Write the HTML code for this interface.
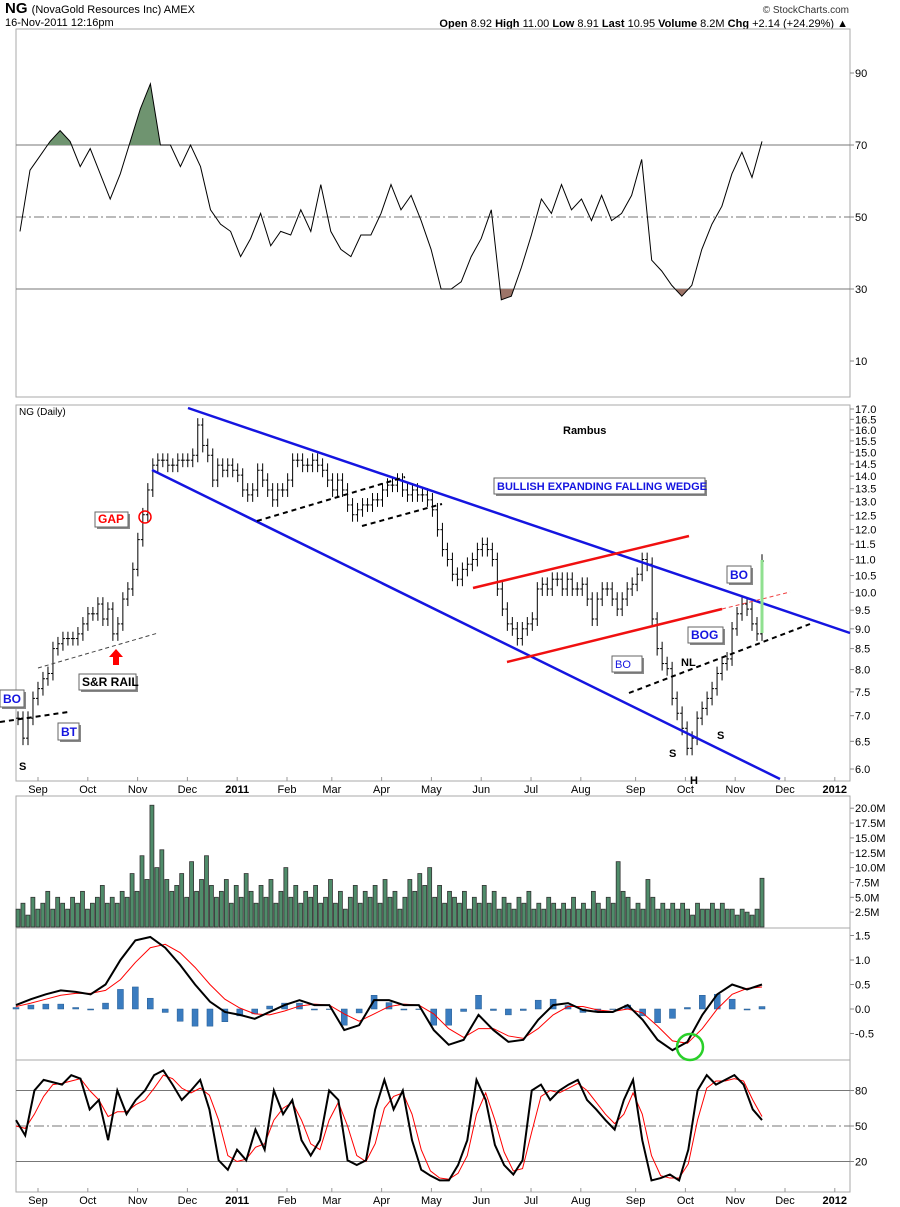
<!DOCTYPE html>
<html><head><meta charset="utf-8">
<style>
html,body{margin:0;padding:0;background:#fff;}
svg{display:block;font-family:"Liberation Sans",sans-serif;}
</style></head>
<body>
<svg id="c" width="900" height="1207" viewBox="0 0 900 1207" xmlns="http://www.w3.org/2000/svg">
<rect x="0" y="0" width="900" height="1207" fill="#fff"/>
<text x="5" y="13" font-size="15" font-weight="bold">NG <tspan font-size="11" font-weight="normal">(NovaGold Resources Inc) AMEX</tspan></text>
<text x="5" y="26" font-size="11">16-Nov-2011 12:16pm</text>
<text x="849" y="13" font-size="10" text-anchor="end" fill="#333">© StockCharts.com</text>
<text x="848" y="27" font-size="11" text-anchor="end"><tspan font-weight="bold">Open</tspan> 8.92 <tspan font-weight="bold">High</tspan> 11.00 <tspan font-weight="bold">Low</tspan> 8.91 <tspan font-weight="bold">Last</tspan> 10.95 <tspan font-weight="bold">Volume</tspan> 8.2M <tspan font-weight="bold">Chg</tspan> +2.14 (+24.29%) ▲</text>
<g id="g"></g>
</svg>
<script>
// ---- data ----
const priceCloses=[6.95,6.56,6.95,7.36,7.57,7.79,7.91,8.5,8.62,8.75,8.75,8.75,8.87,9.13,9.4,9.4,9.67,9.26,9.53,8.87,9.13,9.81,10.1,10.69,11.65,12.52,13.45,14.45,14.66,14.66,14.45,14.45,14.66,14.66,14.66,14.87,16.23,15.3,14.87,13.84,14.45,14.24,14.45,14.24,14.04,13.45,13.26,13.45,14.24,13.84,13.45,13.07,13.45,13.45,13.84,14.66,14.66,14.45,14.45,14.66,14.45,14.24,13.84,13.45,13.84,13.45,12.88,12.52,12.7,12.88,12.88,13.07,13.07,13.45,13.64,13.64,13.84,13.45,13.26,13.45,13.26,13.26,13.07,12.7,11.99,11.32,11.0,10.54,10.39,10.69,10.85,11.0,11.32,11.49,11.32,11.0,10.1,9.53,9.13,9.0,8.75,9.0,9.13,9.26,10.1,10.24,10.1,10.39,10.39,10.1,10.39,10.1,10.1,10.24,9.81,9.26,9.81,10.1,10.1,9.81,9.53,9.81,10.1,10.24,10.54,11.0,10.85,9.26,8.5,8.14,8.02,7.36,7.05,6.75,6.37,6.56,6.95,7.15,7.36,7.57,7.91,8.14,8.25,9.0,9.4,9.67,9.53,9.13,8.87,10.95];
const priceTicks=[17.0,16.5,16.0,15.5,15.0,14.5,14.0,13.5,13.0,12.5,12.0,11.5,11.0,10.5,10.0,9.5,9.0,8.5,8.0,7.5,7.0,6.5,6.0];
const rsiValues=[46,63,67,71,74,71,64,69,62,55,62,71,80,87,70,70,64,70,64,52,48,46,39,44,51,42,46,45,52,46,59,46,41,39,45,45,51,59,52,56,49,41,30,30,32,39,44,52,27,28,36,45,55,51,59,52,55,49,56,49,51,56,66,38,35,31,28,31,41,48,53,62,68,61,71];
const rsiTicks=[90,70,50,30,10];
const volumeM=[3,4,2,5,3,4,6,3,5,4,3,5,4,6,3,4,5,7,4,5,4,6,5,9,6,12,8,20.5,10,13,8,6,7,9,5,11,6,8,12,7,5,6,8,4,7,5,9,6,4,7,5,8,4,6,10,5,7,4,6,5,7,4,5,8,4,6,3,5,7,4,6,5,7,4,8,5,6,3,5,8,6,9,7,10,5,7,4,6,5,4,6,3,5,4,7,4,6,3,5,4,3,5,4,6,3,4,3,5,4,3,4,3,5,3,4,3,6,4,3,5,4,11,6,5,3,4,3,8,5,3,4,3,4,3,4,3,2,4,3,3,4,3,4,3,3,2,3,2.5,2,3,8.2];
const volumeTicks=[20.0,17.5,15.0,12.5,10.0,7.5,5.0,2.5];
const macdLine=[0.08,0.2,0.3,0.38,0.35,0.3,0.5,1.0,1.4,1.47,1.25,0.9,0.5,0.15,-0.06,-0.12,-0.2,-0.06,0.08,0.18,0.08,0.08,-0.43,-0.33,0.18,0.18,0.08,0.08,-0.43,-0.73,-0.63,-0.12,-0.43,-0.67,-0.63,-0.22,0.08,0.12,-0.02,-0.06,-0.06,0.08,-0.22,-0.63,-0.84,-0.67,-0.12,0.3,0.5,0.4,0.5];
const macdSignal=[0.05,0.12,0.2,0.28,0.32,0.32,0.38,0.6,0.95,1.25,1.32,1.15,0.85,0.5,0.2,0.02,-0.1,-0.12,-0.04,0.06,0.1,0.08,-0.1,-0.25,-0.1,0.05,0.1,0.08,-0.1,-0.4,-0.58,-0.4,-0.4,-0.55,-0.6,-0.4,-0.12,0.05,0.05,-0.02,-0.05,0.0,-0.08,-0.35,-0.65,-0.7,-0.4,0.0,0.3,0.42,0.45];
const macdTicks=[1.5,1.0,0.5,0.0,-0.5];
const stochK=[55,42,80,89,87,85,93,90,64,72,38,80,60,72,80,93,97,85,72,80,89,64,21,13,30,21,47,30,80,60,72,38,25,38,80,72,21,17,21,64,89,64,80,38,13,8,4,4,17,38,89,72,34,17,9,21,80,85,72,80,85,89,72,64,55,47,72,89,38,4,6,9,4,30,80,93,85,89,93,85,64,55];
const stochD=[50,48,60,75,85,86,88,90,80,72,58,62,62,68,72,82,93,90,82,78,82,76,55,25,20,22,32,35,55,65,70,55,35,30,55,70,50,25,20,35,65,75,78,60,30,12,6,5,10,25,60,78,55,28,12,14,45,75,80,78,82,86,80,70,60,52,60,78,60,25,8,6,6,18,55,82,88,88,90,88,72,58];
const stochTicks=[80,50,20];
const monthLabels=["Sep","Oct","Nov","Dec","2011","Feb","Mar","Apr","May","Jun","Jul","Aug","Sep","Oct","Nov","Dec","2012"];
const monthIndex=[0.4,1.4,2.4,3.4,4.4,5.4,6.3,7.3,8.3,9.3,10.3,11.3,12.4,13.4,14.4,15.4,16.4];

// ---- layout ----
const NS="http://www.w3.org/2000/svg";
const G=document.getElementById('g');
const L=16,R=850,X0=18,X1=762;
function mk(t,a,p){const e=document.createElementNS(NS,t);for(const k in a)e.setAttribute(k,a[k]);(p||G).appendChild(e);return e;}
function xs(n,i,a,b){a=a===undefined?X0:a;b=b===undefined?X1:b;return a+(b-a)*i/(n-1);}
const monthX=m=>38+m*49.8-0.4*49.8+0; // axis function for month position
const P={rsi:[29,397],price:[405,781],vol:[796,928],macd:[928,1060],sto:[1060,1192]};
const yRsi=v=>217-(v-50)*3.6;
const yPrice=p=>409+(Math.log(17)-Math.log(p))/Math.log(17/6)*360;
const yVol=v=>927-v*5.94;
const yMacd=v=>1009-v*49;
const ySto=v=>1126-(v-50)*1.183;

// panels
for(const k in P){const r=mk('rect',{x:L,y:P[k][0],width:R-L,height:P[k][1]-P[k][0],fill:'none',stroke:'#aaa','stroke-width':1});

}

function tickLabels(ticks,yf,fmt,name){ticks.forEach(t=>{const y=yf(t);
 const ln=mk('line',{x1:R,x2:R+4,y1:y,y2:y,stroke:'#888'});
 
 
 const tx=mk('text',{x:R+5,y:y+4,'font-size':11,fill:'#000'});tx.textContent=fmt(t);
 
 });}
tickLabels(rsiTicks,yRsi,t=>t,'rsi-axis');
tickLabels(priceTicks,yPrice,t=>t.toFixed(1),'price-axis');
tickLabels(volumeTicks,yVol,t=>t.toFixed(1)+'M','volume-axis');
tickLabels(macdTicks,yMacd,t=>t.toFixed(1),'macd-axis');
tickLabels(stochTicks,ySto,t=>t,'stoch-axis');

// month axes
function monthAxis(y,top,name){monthLabels.forEach((m,i)=>{const x=monthX(monthIndex[i]);
 const tk=mk('line',{x1:x,x2:x,y1:y-4,y2:y,stroke:'#999'});
 
 
 const t=mk('text',{x:x,y:y+12,'font-size':11,'text-anchor':'middle','font-weight':/^\d/.test(m)?'bold':'normal'});t.textContent=m;
 
 });}
monthAxis(781,405,'price-x-axis');
monthAxis(1192,1060,'stoch-x-axis');

// RSI
[[70,'none'],[30,'none'],[50,'10,3,2,3']].forEach(([v,d])=>{const l=mk('line',{x1:L,x2:R,y1:yRsi(v),y2:yRsi(v),stroke:'#777','stroke-dasharray':d});
 
 });
const rsiPts=rsiValues.map((v,i)=>[xs(rsiValues.length,i,20,762),yRsi(v)]);
const rsiStr=rsiPts.map(p=>p[0].toFixed(1)+','+p[1].toFixed(1)).join(' ');
const defs=mk('defs',{});
const c1=mk('clipPath',{id:'above70'},defs);mk('rect',{x:L,y:P.rsi[0],width:R-L,height:yRsi(70)-P.rsi[0]},c1);
const c2=mk('clipPath',{id:'below30'},defs);mk('rect',{x:L,y:yRsi(30),width:R-L,height:P.rsi[1]-yRsi(30)},c2);
const f1=mk('polygon',{points:rsiPts[0][0]+','+yRsi(70)+' '+rsiStr+' '+rsiPts[rsiPts.length-1][0]+','+yRsi(70),fill:'#6f9470','clip-path':'url(#above70)'});


const f2=mk('polygon',{points:rsiPts[0][0]+','+yRsi(30)+' '+rsiStr+' '+rsiPts[rsiPts.length-1][0]+','+yRsi(30),fill:'#9c7468','clip-path':'url(#below30)'});


const rl=mk('polyline',{points:rsiStr,fill:'none',stroke:'#000','stroke-width':1});



// Price bars
const pt=mk('text',{x:19,y:415,'font-size':10});pt.textContent='NG (Daily)';


priceCloses.forEach((c,i)=>{const x=xs(priceCloses.length,i);const o=i?priceCloses[i-1]:c;
 const hi=Math.max(c,o)*1.02,lo=Math.min(c,o)*0.98;
 const g=mk('g',{});
 
 
 mk('line',{x1:x,x2:x,y1:yPrice(hi),y2:yPrice(lo),stroke:'#000','stroke-width':1},g);
 mk('line',{x1:x-2,x2:x,y1:yPrice(o),y2:yPrice(o),stroke:'#000'},g);
 mk('line',{x1:x,x2:x+2,y1:yPrice(c),y2:yPrice(c),stroke:'#000'},g);});

// Annotations
function line(x1,y1,x2,y2,s,w,d,name){const l=mk('line',{x1,y1,x2,y2,stroke:s,'stroke-width':w,'stroke-dasharray':d||'none'});
 
 }
line(188,408,850,633,'#1515e0',2.5,'','wedge-upper-line');
line(152,470,780,779,'#1515e0',2.5,'','wedge-lower-line');
line(473,588,689,536,'#f01010',2.5,'','channel-upper-line');
line(507,662,722,609,'#f01010',2.5,'','channel-lower-line');
line(722,609,790,592,'#f04040',1,'4,3','channel-extension-line');
line(629,693,810,624,'#000',2,'5,4','neckline');
line(0,722,68,712,'#000',2,'5,4','left-support-line');
line(38,668,158,633,'#444',1,'4,3','sr-rail-line');
line(257,521,405,477,'#000',2,'5,4','flag-lower-line');
line(362,526,442,504,'#000',2,'5,4','flag-lower-line-2');
line(762,560,762,633,'#90e090',3,'','breakout-bar-highlight');
function box(x,y,w,h,txt,col,bold,fs,name){const g=mk('g',{});
 
 
 mk('rect',{x:x+2,y:y+2,width:w,height:h,fill:'#888'},g);
 mk('rect',{x,y,width:w,height:h,fill:'#fff',stroke:'#666'},g);
 const t=mk('text',{x:x+3,y:y+h-4,'font-size':fs||12,'font-weight':bold===false?'normal':'bold',fill:col},g);t.textContent=txt;}
function lbl(x,y,t,name,fs){const e=mk('text',{x,y,'font-size':fs||11,'font-weight':'bold'});e.textContent=t;
 
 }
box(95,512,33,15,'GAP','#f00',true,12,'gap-callout');
box(79,674,57,16,'S&R RAIL','#000',true,12,'sr-rail-callout');
box(0,690,24,17,'BO','#1515e0',true,12,'bo-left-callout');
box(58,723,21,17,'BT','#1515e0',true,12,'bt-callout');
box(494,478,211,16,'BULLISH EXPANDING FALLING WEDGE','#1515e0',true,11,'wedge-callout');
box(727,566,24,17,'BO','#1515e0',true,12,'bo-right-callout');
box(612,656,30,16,'BO','#1515e0',false,11,'bo-channel-callout');
box(688,627,35,16,'BOG','#1515e0',true,12,'bog-callout');
const gc=mk('circle',{cx:145,cy:517,r:6,fill:'none',stroke:'#f00','stroke-width':1.5});


const ar=mk('polygon',{points:'116,649 123,657 119,657 119,665 113,665 113,657 109,657',fill:'#f00'});


lbl(19,770,'S','left-shoulder-label-1');
lbl(669,757,'S','left-shoulder-label');
lbl(717,739,'S','right-shoulder-label');
lbl(690,784,'H','head-label');
lbl(681,666,'NL','neckline-label');
lbl(563,434,'Rambus','author-label');

// Volume
const vw=(X1-X0)/(volumeM.length-1);
volumeM.forEach((v,i)=>{const x=xs(volumeM.length,i);const r=mk('rect',{x:x-vw/2+0.5,y:yVol(v),width:Math.max(vw-1,1),height:927-yVol(v),fill:'#4f8c6a',stroke:'#333','stroke-width':0.8});
 
 });

// MACD
macdLine.forEach((v,i)=>{const x=xs(macdLine.length,i,16,762);const h=v-macdSignal[i];const y=yMacd(Math.max(h,0)),y2=yMacd(Math.min(h,0));
 const r=mk('rect',{x:x-3,y:y,width:6,height:Math.max(y2-y,0.5),fill:'#3a7cc0',stroke:'#245a90','stroke-width':0.5});
 
 });
const ms=mk('polyline',{points:macdSignal.map((v,i)=>xs(macdSignal.length,i,16,762)+','+yMacd(v)).join(' '),fill:'none',stroke:'#f00','stroke-width':1});


const ml=mk('polyline',{points:macdLine.map((v,i)=>xs(macdLine.length,i,16,762)+','+yMacd(v)).join(' '),fill:'none',stroke:'#000','stroke-width':2});


const gcir=mk('circle',{cx:690,cy:1047,r:13,fill:'none',stroke:'#2ad02a','stroke-width':2.5});



// Stochastic
[[80,'none'],[20,'none'],[50,'10,3,2,3']].forEach(([v,d])=>{const l=mk('line',{x1:L,x2:R,y1:ySto(v),y2:ySto(v),stroke:'#777','stroke-dasharray':d});
 
 });
const sd=mk('polyline',{points:stochD.map((v,i)=>xs(stochD.length,i,16,762)+','+ySto(v)).join(' '),fill:'none',stroke:'#f00','stroke-width':1});


const sk=mk('polyline',{points:stochK.map((v,i)=>xs(stochK.length,i,16,762)+','+ySto(v)).join(' '),fill:'none',stroke:'#000','stroke-width':2});


</script>
</body></html>
